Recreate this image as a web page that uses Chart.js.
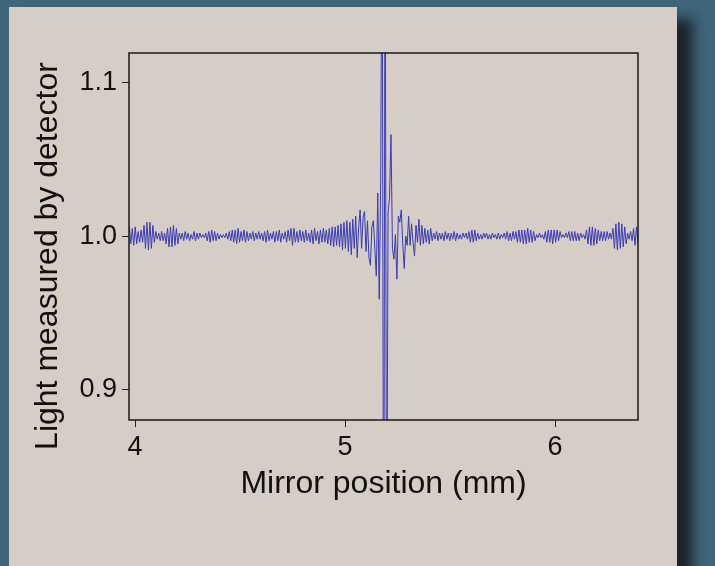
<!DOCTYPE html>
<html>
<head>
<meta charset="utf-8">
<script src="https://cdn.jsdelivr.net/npm/chart.js@4"></script>
<style>
  html, body { margin: 0; padding: 0; background: #3f667b; width: 715px; height: 566px; overflow: hidden; }
  #card { position: absolute; left: 9px; top: 7px; width: 668px; height: 600px; background: #d6cdc7; box-shadow: 16px 12px 12px rgba(20, 25, 30, 0.85); }
  #chart { position: absolute; left: 0; top: 0; }
</style>
</head>
<body>
<div id="card"></div>
<canvas id="chart" width="715" height="566"></canvas>
<script>
// Sampling grid of the interferogram (mm)
const xStart = 3.973;
const xStep = 0.007;

// Detector signal, left wing -> centre burst -> right wing
const signalLeft = [
  1.006, 0.995, 1.005, 0.994, 1.006, 0.995, 1.003, 0.996, 1.004, 0.996,
  1.007, 0.992, 1.009, 0.991, 1.009, 0.992, 1.007, 0.996, 1.003, 0.998,
  1.002, 0.997, 1.003, 0.997, 1.002, 0.995, 1.005, 0.993, 1.006, 0.993,
  1.007, 0.994, 1.005, 0.995, 1.002, 0.998, 1.002, 0.997, 1.003, 0.998,
  1.002, 0.997, 1.001, 0.998, 1.003, 0.997, 1.002, 0.998, 1.002, 0.999,
  1.001, 0.999, 1.002, 0.997, 1.003, 0.996, 1.004, 0.997, 1.003, 0.997,
  1.002, 0.998, 1.001, 0.999, 1.001, 0.999, 1.002, 0.998, 1.003, 0.997,
  1.004, 0.996, 1.004, 0.995, 1.005, 0.996, 1.003, 0.997, 1.004, 0.996,
  1.003, 0.997, 1.002, 0.998, 1.003, 0.997, 1.002, 0.998, 1.003, 0.998,
  1.002, 0.997, 1.003, 0.996, 1.004, 0.997, 1.002, 0.998, 1.003, 0.996,
  1.003, 0.997, 1.004, 0.996, 1.002, 0.998, 1.003, 0.996, 1.004, 0.997,
  1.005, 0.994, 1.005, 0.996, 1.003, 0.996, 1.004, 0.997, 1.003, 0.996,
  1.004, 0.997, 1.002, 0.996, 1.004, 0.995, 1.005, 0.997, 1.003, 0.995,
  1.004, 0.996, 1.005, 0.996, 1.004, 0.995, 1.005, 0.994, 1.006, 0.993,
  1.006, 0.994, 1.007, 0.993, 1.008, 0.991, 1.009, 0.992, 1.010, 0.990
];
const signalCenter = [
  1.009, 0.988, 1.011, 0.992, 1.013, 0.986, 1.006, 1.017, 0.992, 1.012,
  1.016, 0.990, 1.010, 0.986, 0.981, 1.006, 1.010, 0.992, 0.974, 1.028,
  0.959, 1.037, 1.250, 0.700, 1.250, 0.750, 1.015, 1.025, 1.066, 0.992,
  0.985, 1.001, 0.972, 1.013, 1.009, 1.017, 0.995, 0.979, 1.000, 0.994,
  1.013, 0.994, 1.008, 0.996, 0.987, 1.007, 0.996, 1.011, 0.994, 1.007
];
const signalRight = [
  0.995, 1.005, 0.996, 1.004, 0.995, 1.005, 0.997, 1.002, 0.998, 1.003,
  0.997, 1.002, 0.998, 1.002, 0.997, 1.003, 0.998, 1.002, 0.997, 1.002,
  0.998, 1.003, 0.997, 1.002, 0.998, 1.001, 0.998, 1.002, 0.999, 1.002,
  0.998, 1.003, 0.996, 1.004, 0.996, 1.004, 0.997, 1.002, 0.998, 1.001,
  0.998, 1.002, 0.999, 1.002, 0.998, 1.001, 0.998, 1.002, 0.999, 1.001,
  0.998, 1.002, 0.998, 1.001, 0.999, 1.002, 0.998, 1.003, 0.997, 1.002,
  0.997, 1.003, 0.998, 1.003, 0.996, 1.004, 0.996, 1.004, 0.995, 1.004,
  0.995, 1.005, 0.996, 1.004, 0.996, 1.003, 0.997, 1.001, 0.999, 1.002,
  0.999, 1.001, 0.998, 1.003, 0.996, 1.004, 0.996, 1.004, 0.995, 1.004,
  0.996, 1.004, 0.997, 1.003, 0.999, 1.001, 0.999, 1.002, 0.999, 1.003,
  0.997, 1.003, 0.997, 1.003, 0.997, 1.002, 0.997, 1.002, 0.999, 1.001,
  0.998, 1.004, 0.995, 1.006, 0.994, 1.006, 0.994, 1.005, 0.995, 1.004,
  0.997, 1.003, 0.997, 1.003, 0.997, 1.003, 0.998, 1.002, 0.998, 1.005,
  0.992, 1.008, 0.991, 1.009, 0.992, 1.008, 0.993, 1.006, 0.995, 1.002,
  0.998, 1.003, 0.997, 1.005, 0.994, 1.006, 0.995
];

// Axes
const xMin = 3.9714, xMax = 6.3952;
const yMin = 0.8805, yMax = 1.119;
const xTicks = [4, 5, 6];
const yTicks = [0.9, 1.0, 1.1];
const yTitle = 'Light measured by detector';

const FONT = "'Liberation Sans', Arial, sans-serif";
const INK = '#111111';

const signal = signalLeft.concat(signalCenter, signalRight);
const points = signal.map((y, i) => ({ x: xStart + i * xStep, y: y }));

// Box around the plot area + y title (sits a bit below the plot centre)
const framePlugin = {
    id: 'frame',
    afterDraw(chart) {
        const { ctx, chartArea: a } = chart;
        ctx.save();
        ctx.strokeStyle = '#1a1a1a';
        ctx.lineWidth = 1.5;
        ctx.strokeRect(a.left, a.top, a.right - a.left, a.bottom - a.top);

        ctx.translate(48, 256);
        ctx.rotate(-Math.PI / 2);
        ctx.fillStyle = INK;
        ctx.font = '32px ' + FONT;
        ctx.textAlign = 'center';
        ctx.textBaseline = 'middle';
        ctx.fillText(yTitle, 0, 0);
        ctx.restore();
    }
};

new Chart(document.getElementById('chart').getContext('2d'), {
    type: 'line',
    data: {
        datasets: [{
            data: points,
            borderColor: '#3a3ab4',
            borderWidth: 1,
            pointRadius: 0,
            tension: 0,
            clip: 0
        }]
    },
    options: {
        responsive: false,
        animation: false,
        layout: { padding: { top: 53, right: 77, left: 0, bottom: 0 } },
        plugins: { legend: { display: false }, tooltip: { enabled: false } },
        scales: {
            x: {
                type: 'linear',
                min: xMin,
                max: xMax,
                afterBuildTicks: s => { s.ticks = xTicks.map(v => ({ value: v })); },
                afterFit: s => { s.height = 146; },
                grid: { drawOnChartArea: false, tickLength: 7, color: '#222', lineWidth: 1 },
                border: { display: false },
                ticks: { padding: 4, color: INK, maxRotation: 0, font: { family: FONT, size: 27 }, callback: v => String(v) },
                title: { display: true, text: 'Mirror position (mm)', color: INK, font: { family: FONT, size: 32 }, padding: { top: 0, bottom: 63 } }
            },
            y: {
                min: yMin,
                max: yMax,
                afterBuildTicks: s => { s.ticks = yTicks.map(v => ({ value: v })); },
                afterFit: s => { s.width = 129; },
                grid: { drawOnChartArea: false, tickLength: 7, color: '#222', lineWidth: 1 },
                border: { display: false },
                ticks: { padding: 5, color: INK, font: { family: FONT, size: 27 }, callback: v => v.toFixed(1) },
                title: { display: false }
            }
        }
    },
    plugins: [framePlugin]
});
</script>
</body>
</html>
